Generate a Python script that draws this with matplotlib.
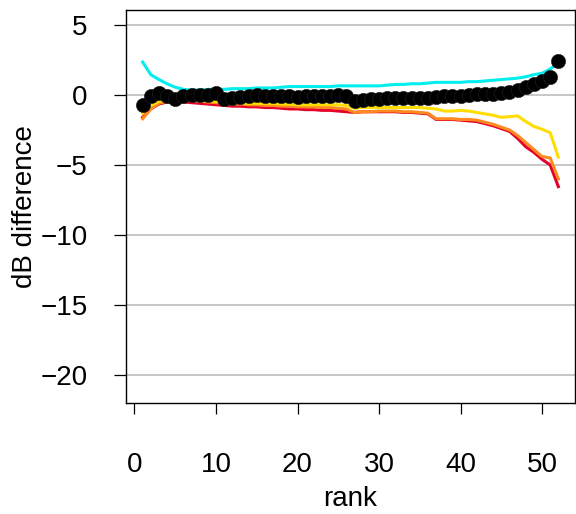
import numpy as np
import matplotlib
matplotlib.use("Agg")
import matplotlib.pyplot as plt

plt.rcParams['font.family'] = ['Liberation Sans', 'DejaVu Sans']

# rank 1..52
rank = np.arange(1, 53)

# black points: dB difference per rank
points_db = [-0.7, -0.05, 0.15, -0.1, -0.3, -0.05, 0.0, 0.0, 0.0, 0.15,
             -0.3, -0.2, -0.15, -0.05, 0.0, -0.05, -0.05, -0.05, -0.1, -0.15,
             -0.1, -0.1, -0.05, -0.05, 0.0, -0.05, -0.4, -0.35, -0.3, -0.3,
             -0.25, -0.2, -0.2, -0.2, -0.25, -0.2, -0.15, -0.1, -0.1, -0.05,
             0.0, 0.05, 0.05, 0.1, 0.15, 0.2, 0.35, 0.55, 0.8, 1.0,
             1.3, 2.4]

cyan_db = [2.35, 1.45, 1.1, 0.8, 0.55, 0.4, 0.35, 0.35, 0.4, 0.4,
           0.4, 0.45, 0.45, 0.45, 0.5, 0.5, 0.5, 0.55, 0.6, 0.6,
           0.6, 0.6, 0.6, 0.6, 0.65, 0.65, 0.65, 0.65, 0.65, 0.65,
           0.7, 0.75, 0.75, 0.8, 0.8, 0.85, 0.9, 0.9, 0.9, 0.9,
           0.95, 0.95, 1.0, 1.05, 1.1, 1.15, 1.2, 1.3, 1.45, 1.55,
           1.85, 2.3]

yellow_db = [-1.3, -0.75, -0.45, -0.35, -0.35, -0.35, -0.4, -0.4, -0.45, -0.45,
             -0.5, -0.55, -0.55, -0.6, -0.6, -0.6, -0.6, -0.65, -0.65, -0.7,
             -0.7, -0.7, -0.7, -0.7, -0.7, -0.75, -0.95, -0.9, -0.9, -0.9,
             -0.9, -0.9, -0.9, -0.9, -0.9, -0.95, -1.0, -1.15, -1.15, -1.1,
             -1.15, -1.25, -1.35, -1.45, -1.6, -1.55, -1.5, -1.9, -2.25, -2.45,
             -2.7, -4.45]

orange_db = [-1.7, -1.0, -0.6, -0.45, -0.45, -0.4, -0.4, -0.45, -0.5, -0.55,
             -0.6, -0.65, -0.65, -0.7, -0.7, -0.75, -0.75, -0.8, -0.8, -0.85,
             -0.85, -0.85, -0.9, -0.9, -0.95, -1.0, -1.25, -1.2, -1.2, -1.15,
             -1.15, -1.15, -1.2, -1.2, -1.25, -1.3, -1.7, -1.7, -1.7, -1.75,
             -1.75, -1.8, -1.95, -2.1, -2.3, -2.5, -2.9, -3.4, -3.9, -4.4,
             -4.5, -6.0]

red_db = [-1.6, -1.0, -0.65, -0.5, -0.5, -0.5, -0.55, -0.6, -0.65, -0.7,
          -0.75, -0.8, -0.8, -0.85, -0.85, -0.9, -0.9, -0.95, -1.0, -1.0,
          -1.05, -1.05, -1.1, -1.1, -1.15, -1.2, -1.25, -1.2, -1.2, -1.2,
          -1.2, -1.2, -1.25, -1.25, -1.3, -1.35, -1.75, -1.75, -1.75, -1.8,
          -1.85, -1.9, -2.05, -2.2, -2.4, -2.6, -3.1, -3.7, -4.1, -4.6,
          -5.0, -6.55]

y_ticks = [5, 0, -5, -10, -15, -20]
x_ticks = [0, 10, 20, 30, 40, 50]

fig = plt.figure(figsize=(5.76, 5.14), dpi=100)
ax = fig.add_axes([0.21875, 0.216, 0.7795, 0.7646])

for yt in y_ticks:
    ax.axhline(yt, color='#bebebe', lw=1.2, zorder=0)

ax.plot(rank, red_db, color='#e6002a', lw=2.2, zorder=2)
ax.plot(rank, orange_db, color='#ff8a1e', lw=2.2, zorder=3)
ax.plot(rank, yellow_db, color='#ffdd00', lw=2.2, zorder=4)
ax.plot(rank, cyan_db, color='#00eeee', lw=2.2, zorder=5)
ax.plot(rank, points_db, 'o', color='black', ms=10.3, mec='#222222', mew=0.4,
        zorder=6)

ax.set_xlim(-1.04, 54.04)
ax.set_ylim(-22.0, 6.07)
ax.set_xticks(x_ticks)
ax.set_yticks(y_ticks)
ax.set_yticklabels(['\u2212' + str(-v) if v < 0 else str(v) for v in y_ticks])
ax.tick_params(axis='x', length=8, width=0.9, labelsize=20, pad=27)
ax.tick_params(axis='y', length=8.5, width=0.9, labelsize=20, pad=19)
for sp in ax.spines.values():
    sp.set_linewidth(1.0)

ax.set_xlabel('rank', fontsize=20, labelpad=6)
ax.set_ylabel('dB difference', fontsize=20, labelpad=2)

fig.savefig('out.png', dpi=100)
